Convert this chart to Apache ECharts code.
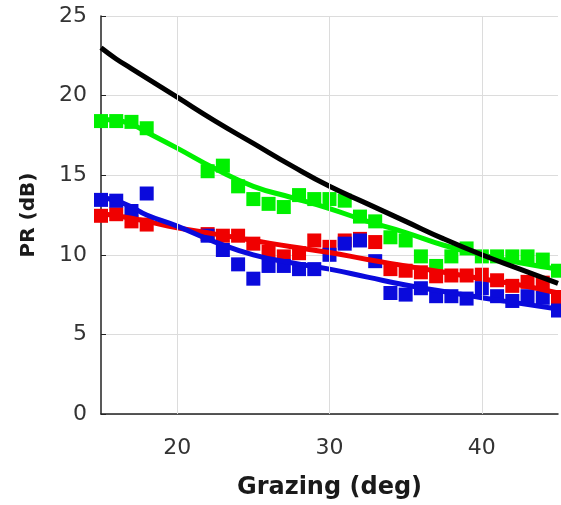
<!DOCTYPE html>
<html>
<head>
    <meta charset="utf-8"/>
    <title>PR vs Grazing</title>
    <script src="https://cdn.jsdelivr.net/npm/echarts@6/dist/echarts.min.js"></script>
    <style>
        html, body { margin: 0; padding: 0; background: #fff; }
    </style>
</head>
<body>
<div id="main" style="width: 561px; height: 505px;"></div>
<script type="text/javascript">
    // measured points (deg)
    var grazing = [15, 16, 17, 18, 22, 23, 24, 25, 26, 27, 28, 29, 30, 31, 32, 33, 34, 35, 36, 37, 38, 39, 40, 41, 42, 43, 44, 45];
    var greenPR = [18.4, 18.4, 18.35, 17.95, 15.25, 15.6, 14.3, 13.5, 13.2, 13.0, 13.75, 13.5, 13.5, 13.4, 12.4, 12.1, 11.1, 10.9, 9.9, 9.3, 9.9, 10.4, 9.9, 9.9, 9.9, 9.9, 9.7, 9.0];
    var redPR = [12.45, 12.55, 12.1, 11.9, 11.3, 11.2, 11.2, 10.7, 10.2, 9.9, 10.1, 10.9, 10.5, 10.9, 11.0, 10.8, 9.1, 9.0, 8.9, 8.65, 8.7, 8.7, 8.75, 8.4, 8.05, 8.3, 8.25, 7.35];
    var bluePR = [13.45, 13.4, 12.75, 13.85, 11.2, 10.3, 9.4, 8.5, 9.3, 9.3, 9.1, 9.1, 10.0, 10.7, 10.9, 9.6, 7.6, 7.5, 7.9, 7.4, 7.4, 7.25, 7.9, 7.4, 7.1, 7.4, 7.3, 6.5];

    // fitted curves
    var fitGrazing = [15, 16, 17, 18, 20, 22.5, 25, 27.5, 30, 32.5, 35, 37.5, 40, 42.5, 45];
    var blackFit = [23.0, 22.3, 21.7, 21.1, 19.9, 18.4, 17.0, 15.6, 14.3, 13.2, 12.1, 11.0, 10.0, 9.1, 8.2];
    var greenFit = [18.5, 18.45, 18.2, 17.7, 16.7, 15.4, 14.3, 13.6, 12.9, 12.1, 11.4, 10.6, 10.0, 9.5, 9.1];
    var redFit = [12.6, 12.45, 12.3, 12.1, 11.7, 11.3, 10.9, 10.5, 10.15, 9.7, 9.3, 8.9, 8.5, 8.1, 7.6];
    var blueFit = [13.6, 13.4, 13.0, 12.5, 11.8, 10.8, 10.0, 9.5, 9.1, 8.6, 8.1, 7.7, 7.3, 6.95, 6.6];

    var xTicks = [20, 30, 40];

    var GREEN = '#00f000', RED = '#f00000', BLUE = '#0a0adc';

    function pairs(xs, ys) {
        return xs.map(function (x, i) { return [x, ys[i]]; });
    }

    function scatter(name, ys, color) {
        return {
            name: name,
            type: 'scatter',
            symbol: 'rect',
            symbolSize: 14,
            data: pairs(grazing, ys),
            itemStyle: { color: color, opacity: 1 },
            silent: true
        };
    }

    function fit(name, ys, color) {
        return {
            name: name,
            type: 'line',
            smooth: true,
            showSymbol: false,
            data: pairs(fitGrazing, ys),
            lineStyle: { color: color, width: 5 },
            silent: true
        };
    }

    var chart = echarts.init(document.getElementById('main'));

    var option = {
        animation: false,
        backgroundColor: '#ffffff',
        textStyle: { fontFamily: 'DejaVu Sans' },
        grid: { left: 101, right: 3, top: 16, bottom: 89 },
        xAxis: {
            type: 'value',
            min: 15,
            max: 45,
            interval: 5,
            name: 'Grazing (deg)',
            nameLocation: 'middle',
            nameGap: 62,
            nameTextStyle: { fontSize: 24, fontWeight: 'bold', color: '#1a1a1a' },
            axisLine: { onZero: false, lineStyle: { color: '#222', width: 1.5 } },
            axisTick: { inside: true, length: 5, customValues: xTicks, lineStyle: { color: '#222' } },
            axisLabel: { customValues: xTicks, fontSize: 22, color: '#333', margin: 23 },
            splitLine: { show: false }
        },
        yAxis: {
            type: 'value',
            min: 0,
            max: 25,
            interval: 5,
            name: 'PR (dB)',
            nameLocation: 'middle',
            nameGap: 62,
            nameTextStyle: { fontSize: 20, fontWeight: 'bold', color: '#1a1a1a' },
            axisLine: { show: true, lineStyle: { color: '#222', width: 1.5 } },
            axisTick: { show: true, inside: true, length: 5, lineStyle: { color: '#222' } },
            axisLabel: { fontSize: 22, color: '#333', margin: 14 },
            splitLine: { show: true, lineStyle: { color: '#dcdcdc', width: 1 } }
        },
        series: [
            {
                // vertical grid lines only at the labelled ticks
                type: 'line',
                data: [],
                z: 1,
                silent: true,
                markLine: {
                    silent: true,
                    symbol: 'none',
                    label: { show: false },
                    lineStyle: { color: '#dcdcdc', width: 1, type: 'solid' },
                    data: xTicks.map(function (v) { return { xAxis: v }; })
                }
            },
            scatter('green pts', greenPR, GREEN),
            scatter('red pts', redPR, RED),
            scatter('blue pts', bluePR, BLUE),
            fit('green fit', greenFit, GREEN),
            fit('red fit', redFit, RED),
            fit('blue fit', blueFit, BLUE),
            fit('model', blackFit, '#000000')
        ]
    };

    chart.setOption(option);
</script>
</body>
</html>
